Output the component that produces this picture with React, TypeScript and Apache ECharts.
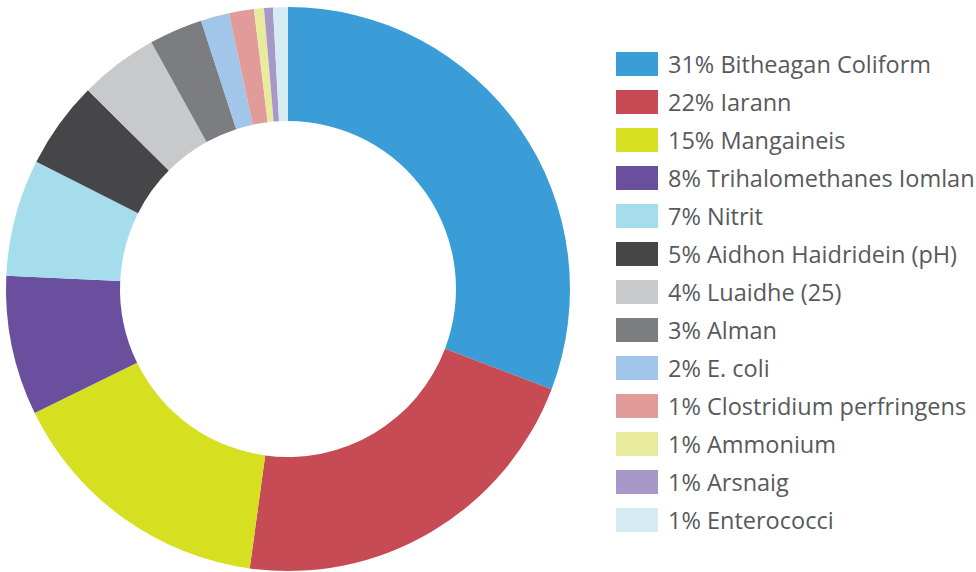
import React, { useEffect, useRef } from "react";
import * as echarts from "echarts";

const categories = [
  "Bitheagan Coliform",
  "Iarann",
  "Mangaineis",
  "Trihalomethanes Iomlan",
  "Nitrit",
  "Aidhon Haidridein (pH)",
  "Luaidhe (25)",
  "Alman",
  "E. coli",
  "Clostridium perfringens",
  "Ammonium",
  "Arsnaig",
  "Enterococci",
];
const percentLabels = [31, 22, 15, 8, 7, 5, 4, 3, 2, 1, 1, 1, 1];
const values = [30.8, 21.4, 15.6, 8.0, 6.7, 5.0, 4.5, 3.07, 1.63, 1.43, 0.57, 0.51, 0.85];
const colors = [
  "#3b9dd8",
  "#c64b55",
  "#d7df21",
  "#6a4f9f",
  "#a5dded",
  "#464648",
  "#c8c9cb",
  "#7c7d81",
  "#a1c6e9",
  "#e19c9a",
  "#e9eb9c",
  "#a898c9",
  "#d5edf2",
];

export default function App() {
  const ref = useRef<HTMLDivElement>(null);
  useEffect(() => {
    if (!ref.current) return;
    const chart = echarts.init(ref.current, null, { renderer: "svg" });
    const names = categories.map((c, i) => `${percentLabels[i]}% ${c}`);
    chart.setOption({
      animation: false,
      color: colors,
      legend: {
        orient: "vertical",
        left: 616,
        top: 52,
        padding: 0,
        itemWidth: 42,
        itemHeight: 24,
        itemGap: 14,
        icon: "rect",
        data: names,
        textStyle: {
          fontFamily: "Open Sans",
          fontSize: 23.5,
          color: "#58595b",
          padding: [0, 0, 0, 5],
        },
      },
      series: [
        {
          type: "pie",
          center: [288, 289],
          radius: [168, 282],
          startAngle: 90,
          clockwise: true,
          label: { show: false },
          labelLine: { show: false },
          emphasis: { disabled: true },
          itemStyle: { borderWidth: 0 },
          data: names.map((n, i) => ({ name: n, value: values[i] })),
        },
      ],
    });
    return () => chart.dispose();
  }, []);
  return (
    <div
      ref={ref}
      style={{ position: "fixed", left: 0, top: 0, width: 976, height: 572, background: "#fff" }}
    />
  );
}
